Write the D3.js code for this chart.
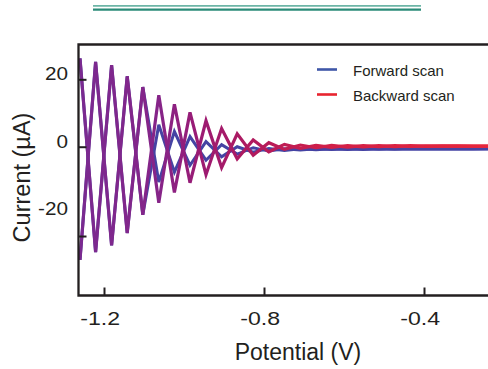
<!DOCTYPE html>
<html>
<head>
<meta charset="utf-8">
<style>
  body { margin: 0; background: #fff; }
  text { font-family: "Liberation Sans", Arial, sans-serif; fill: #231f20; }
</style>
</head>
<body>
<script src="https://cdn.jsdelivr.net/npm/d3@7"></script>
<script>

// potential (V) at each half period of the square wave
var potentials = [-1.260, -1.221, -1.181, -1.142, -1.103, -1.063, -1.024, -0.985, -0.945,
                  -0.906, -0.867, -0.827, -0.788, -0.749, -0.709, -0.670, -0.631, -0.591,
                  -0.552, -0.513, -0.473, -0.434, -0.395, -0.355, -0.316, -0.277, -0.240];

// current (uA), upper and lower envelope of each scan
var backwardUpper = [26.2, 25.2, 24.2, 20.9, 17.7, 15.3, 12.6, 10.2, 7.7, 5.4, 3.8, 2.0, 1.2, 0.7,
                     0.5, 0.4, 0.4, 0.35, 0.35, 0.3, 0.3, 0.3, 0.25, 0.25, 0.25, 0.2, 0.2];
var backwardLower = [-33.6, -31.3, -29.3, -25.6, -20.2, -16.6, -13.6, -10.7, -8.3, -6.2, -3.6, -2.5, -1.5, -0.8,
                     -0.5, -0.3, -0.2, -0.1, -0.05, 0, 0.05, 0.1, 0.1, 0.15, 0.15, 0.2, 0.2];
var forwardUpper  = [26.2, 25.2, 24.2, 20.9, 17.7, 6.5, 4.5, 3.0, 1.5, 0.6, 0.0, -0.3, -0.5, -0.6,
                     -0.6, -0.6, -0.6, -0.6, -0.6, -0.6, -0.6, -0.6, -0.6, -0.6, -0.6, -0.6, -0.6];
var forwardLower  = [-33.6, -31.3, -29.3, -25.6, -20.2, -10.5, -7.5, -5.5, -4.0, -3.0, -2.2, -1.6, -1.3, -1.1,
                     -1.0, -0.9, -0.85, -0.8, -0.8, -0.75, -0.75, -0.7, -0.7, -0.7, -0.7, -0.65, -0.65];

var xTicks = [-1.2, -0.8, -0.4];
var yTicks = [20, 0, -20];
var yTickMarks = [20, 0, -26.5];
var legendNames = ['Forward scan', 'Backward scan'];

var width = 488, height = 369,
    padL = 78.5, padR = 488, padT = 44.5, padB = 295.5,
    ink = '#231f20';

var svg = d3.select('body').append('svg')
    .attr('width', width)
    .attr('height', height);

var x = d3.scaleLinear().domain([-1.26375, -0.24]).range([padL, padR]);
var y = d3.scaleLinear().domain([-44.15, 30.33]).range([padB, padT]);

// gradient for the backward scan: purple where it overlaps, red at the end
var grad = svg.append('defs').append('linearGradient')
    .attr('id', 'bwd')
    .attr('gradientUnits', 'userSpaceOnUse')
    .attr('x1', padL).attr('x2', padR).attr('y1', 0).attr('y2', 0);
[[0, '#7a2a90'], [0.2, '#862488'], [0.3, '#9c1a72'], [0.42, '#b01a5e'], [0.6, '#d01f48'], [1, '#e8263a']]
  .forEach(function(s){
    grad.append('stop').attr('offset', s[0]).attr('stop-color', s[1]);
  });

// header rules
svg.append('line').attr('x1', 93).attr('x2', 421).attr('y1', 5.8).attr('y2', 5.8)
   .attr('stroke', '#6db5a6').attr('stroke-width', 1.7);
svg.append('line').attr('x1', 93).attr('x2', 421).attr('y1', 9.7).attr('y2', 9.7)
   .attr('stroke', '#2b8b78').attr('stroke-width', 2.2);

function zigzag(upper, lower, phase){
  return potentials.map(function(p, i){
    var hi = (i + phase) % 2 === 0;
    return [p, hi ? upper[i] : lower[i]];
  });
}

var line = d3.line()
    .x(function(d){ return x(d[0]); })
    .y(function(d){ return y(d[1]); });

var plot = svg.append('g');

[0, 1].forEach(function(ph){
  plot.append('path')
      .attr('d', line(zigzag(forwardUpper, forwardLower, ph)))
      .attr('fill', 'none')
      .attr('stroke', '#4543a3')
      .attr('stroke-width', 3)
      .attr('stroke-linejoin', 'miter');
});
[0, 1].forEach(function(ph){
  plot.append('path')
      .attr('d', line(zigzag(backwardUpper, backwardLower, ph)))
      .attr('fill', 'none')
      .attr('stroke', 'url(#bwd)')
      .attr('stroke-width', 3.2)
      .attr('stroke-linejoin', 'miter');
});

// frame
svg.append('path')
   .attr('d', 'M' + padR + ',' + padT + 'H' + padL + 'V' + padB + 'H' + padR)
   .attr('fill', 'none').attr('stroke', ink).attr('stroke-width', 2.3);

// x axis
var xa = svg.append('g')
    .attr('transform', 'translate(0,' + padB + ')')
    .call(d3.axisBottom(x).tickValues(xTicks).tickSizeInner(-8).tickSizeOuter(0)
          .tickPadding(16.5).tickFormat(function(d){ return d.toFixed(1); }));
xa.select('.domain').remove();
xa.selectAll('line').attr('stroke', ink).attr('stroke-width', 2);
xa.selectAll('text')
  .attr('font-size', 18.5).attr('fill', ink)
  .attr('dx', -3.5)
  .attr('transform', 'scale(1.25,1)');

// y axis marks
var ya = svg.append('g')
    .attr('transform', 'translate(' + padL + ',0)')
    .call(d3.axisLeft(y).tickValues(yTickMarks).tickSizeInner(-8).tickSizeOuter(0).tickFormat(''));
ya.select('.domain').remove();
ya.selectAll('line').attr('stroke', ink).attr('stroke-width', 2);

// y axis labels
var yl = svg.append('g')
    .attr('transform', 'translate(' + padL + ',0)')
    .call(d3.axisLeft(y).tickValues(yTicks).tickSize(0).tickFormat(function(d){ return String(d); }));
yl.select('.domain').remove();
yl.selectAll('text')
  .attr('x', 0).attr('dy', '0.02em')
  .attr('font-size', 18.5).attr('fill', ink)
  .attr('transform', 'translate(-10.5,0) scale(1.12,1)');

// titles
svg.append('text').attr('x', 298).attr('y', 360)
   .attr('text-anchor', 'middle').attr('font-size', 23)
   .text('Potential (V)');
svg.append('text')
   .attr('transform', 'translate(30,177.5) rotate(-90)')
   .attr('text-anchor', 'middle').attr('font-size', 23.5)
   .text('Current (µA)');

// legend
var legendColors = ['#3f57a8', '#e8242f'];
var lg = svg.append('g').selectAll('g')
    .data(legendNames)
    .enter().append('g')
    .attr('transform', function(d, i){ return 'translate(317,' + (69.5 + i * 25) + ')'; });
lg.append('line').attr('x1', 0).attr('x2', 20)
  .attr('stroke', function(d, i){ return legendColors[i]; })
  .attr('stroke-width', 2.6);
lg.append('text').attr('x', 36).attr('y', 6.5)
  .attr('font-size', 15)
  .text(function(d){ return d; });

</script>
</body>
</html>
